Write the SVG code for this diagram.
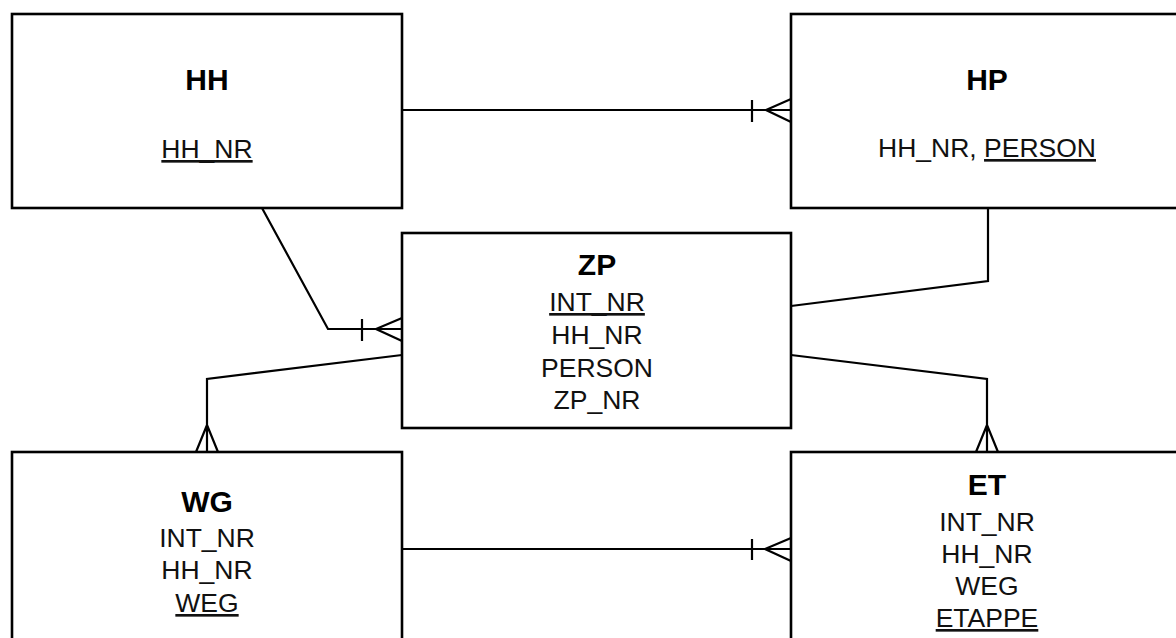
<svg xmlns="http://www.w3.org/2000/svg" width="1176" height="638" viewBox="0 0 1176 638">
<style>
.box{fill:#fff;stroke:#000;stroke-width:2.6}
.ln{fill:none;stroke:#000;stroke-width:2.2}
.t{font-family:"Liberation Sans",Arial,sans-serif;font-size:30px;font-weight:bold;text-anchor:middle;fill:#000}
.a{font-family:"Liberation Sans",Arial,sans-serif;font-size:26.5px;text-anchor:middle;fill:#111}
.u{text-decoration:underline}
</style>
<rect width="1176" height="638" fill="#fff"/>
<g id="connectors">
  <!-- HH - HP -->
  <path class="ln" d="M402,110 H791 M752,100 V122 M791,99 L766,110 L791,122"/>
  <!-- HH - ZP -->
  <path class="ln" d="M262,208 L328,329 H402 M362,319 V341 M402,318 L376,329 L402,341"/>
  <!-- HP - ZP -->
  <path class="ln" d="M988,208 V281 L791,306"/>
  <!-- ZP - WG -->
  <path class="ln" d="M402,355 L207,379 V452 M196,452 L207,425 L218,452"/>
  <!-- ZP - ET -->
  <path class="ln" d="M791,355 L987,379 V452 M976,452 L987,425 L998,452"/>
  <!-- WG - ET -->
  <path class="ln" d="M402,549 H791 M752,539 V560 M791,538 L765,549 L791,561"/>
</g>
<g id="HH">
  <rect class="box" x="12" y="14" width="390" height="194"/>
  <text class="t" x="207" y="90">HH</text>
  <text class="a" x="207" y="158"><tspan class="u">HH_NR</tspan></text>
</g>
<g id="HP">
  <rect class="box" x="791" y="14" width="400" height="194"/>
  <text class="t" x="987" y="90">HP</text>
  <text class="a" x="987" y="157">HH_NR, <tspan class="u">PERSON</tspan></text>
</g>
<g id="ZP">
  <rect class="box" x="402" y="233" width="389" height="195"/>
  <text class="t" x="597" y="275">ZP</text>
  <text class="a" x="597" y="311"><tspan class="u">INT_NR</tspan></text>
  <text class="a" x="597" y="344">HH_NR</text>
  <text class="a" x="597" y="377">PERSON</text>
  <text class="a" x="597" y="409">ZP_NR</text>
</g>
<g id="WG">
  <rect class="box" x="12" y="452" width="390" height="200"/>
  <text class="t" x="207" y="512">WG</text>
  <text class="a" x="207" y="547">INT_NR</text>
  <text class="a" x="207" y="579">HH_NR</text>
  <text class="a" x="207" y="612"><tspan class="u">WEG</tspan></text>
</g>
<g id="ET">
  <rect class="box" x="791" y="452" width="400" height="200"/>
  <text class="t" x="987" y="495">ET</text>
  <text class="a" x="987" y="531">INT_NR</text>
  <text class="a" x="987" y="563">HH_NR</text>
  <text class="a" x="987" y="595">WEG</text>
  <text class="a" x="987" y="627"><tspan class="u">ETAPPE</tspan></text>
</g>
</svg>
